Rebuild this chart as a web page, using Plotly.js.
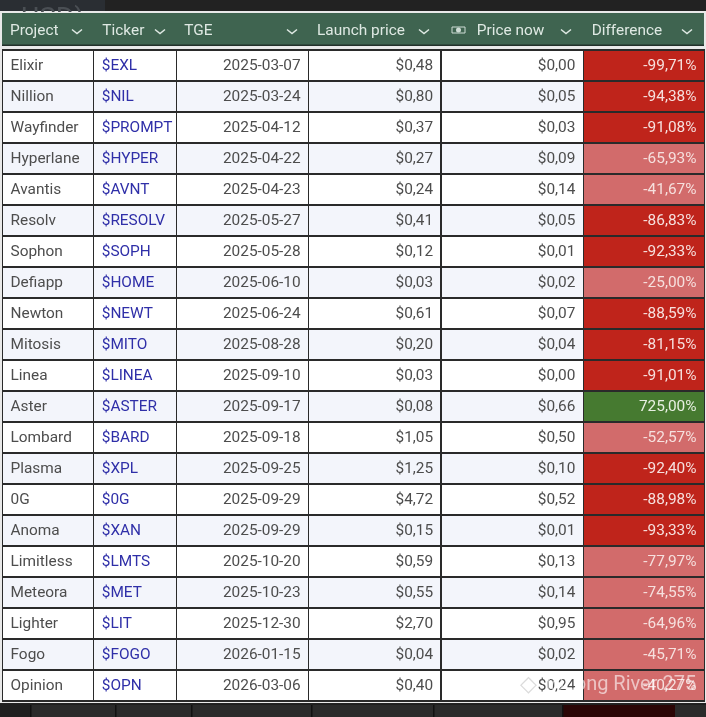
<!DOCTYPE html>
<html><head><meta charset="utf-8">
<script src="https://cdn.plot.ly/plotly-3.0.1.min.js"></script>
<style>html,body{margin:0;padding:0;background:#222}#c{width:706px;height:717px;filter:blur(0.35px)}</style></head>
<body><div id="c"></div>
<script>
const headers=['Project','Ticker','TGE','Launch price','Price now','Difference'];
const projects=['Elixir','Nillion','Wayfinder','Hyperlane','Avantis','Resolv','Sophon','Defiapp','Newton','Mitosis','Linea','Aster','Lombard','Plasma','0G','Anoma','Limitless','Meteora','Lighter','Fogo','Opinion'];
const tickers=['$EXL','$NIL','$PROMPT','$HYPER','$AVNT','$RESOLV','$SOPH','$HOME','$NEWT','$MITO','$LINEA','$ASTER','$BARD','$XPL','$0G','$XAN','$LMTS','$MET','$LIT','$FOGO','$OPN'];
const tge=['2025-03-07','2025-03-24','2025-04-12','2025-04-22','2025-04-23','2025-05-27','2025-05-28','2025-06-10','2025-06-24','2025-08-28','2025-09-10','2025-09-17','2025-09-18','2025-09-25','2025-09-29','2025-09-29','2025-10-20','2025-10-23','2025-12-30','2026-01-15','2026-03-06'];
const launch=['$0,48','$0,80','$0,37','$0,27','$0,24','$0,41','$0,12','$0,03','$0,61','$0,20','$0,03','$0,08','$1,05','$1,25','$4,72','$0,15','$0,59','$0,55','$2,70','$0,04','$0,40'];
const now=['$0,00','$0,05','$0,03','$0,09','$0,14','$0,05','$0,01','$0,02','$0,07','$0,04','$0,00','$0,66','$0,50','$0,10','$0,52','$0,01','$0,13','$0,14','$0,95','$0,02','$0,24'];
const diff=['-99,71%','-94,38%','-91,08%','-65,93%','-41,67%','-86,83%','-92,33%','-25,00%','-88,59%','-81,15%','-91,01%','725,00%','-52,57%','-92,40%','-88,98%','-93,33%','-77,97%','-74,55%','-64,96%','-45,71%','-40,27%'];
const diffNum=diff.map(s=>parseFloat(s.replace(',','.')));
const W=706,H=717;
const colX=[2.5,93.8,176.6,308.9,441.5,583.8,705];
const headX=[2,94.5,176.5,309.5,469.5,584.5,704];
const chevronX=[77,160,292,424,566,687];
const widths=colX.slice(1).map((x,i)=>x-colX[i]);
const headWidths=headX.slice(1).map((x,i)=>x-headX[i]);
const rowFill=projects.map((_,i)=>i%2?'#f3f5fb':'#ffffff');
const diffFill=diffNum.map(v=>v>0?'#467a30':(v<=-80?'#bf241b':'#d26b6b'));
const Y=v=>1-v/H, X=v=>v/W;
const blank=headers.map(()=>'');
const data=[
{type:'table',domain:{x:[X(headX[0]),X(headX[6])],y:[Y(49),Y(14)]},columnwidth:headWidths,
 header:{values:blank,height:1,line:{width:0},fill:{color:'rgba(0,0,0,0)'}},
 cells:{values:headers.map(h=>[h]),height:31,align:'left',fill:{color:'rgba(0,0,0,0)'},line:{color:'rgba(0,0,0,0)',width:0},font:{family:'Roboto, sans-serif',size:15.4,color:'#dfe9e3'}}},
{type:'table',domain:{x:[X(colX[0]),X(colX[6])],y:[Y(703),Y(49)]},columnwidth:widths,
 header:{values:blank,height:1,line:{width:0},fill:{color:'rgba(0,0,0,0)'}},
 cells:{values:[projects,tickers,tge,launch,now,diff],height:31,
  align:['left','left','right','right','right','right'],
  line:{color:'#2a2a2a',width:1.5},
  fill:{color:[rowFill,rowFill,rowFill,rowFill,rowFill,diffFill]},
  font:{family:'Roboto, sans-serif',size:15.4,color:[projects.map(_=>'#4d4d4d'),tickers.map(_=>'#2f2fa8'),tge.map(_=>'#4d4d4d'),launch.map(_=>'#4d4d4d'),now.map(_=>'#4d4d4d'),diff.map((_,i)=>diffNum[i]>0?'#e8f0e2':'#f6e0de')]}}}
];
const rect=(x0,y0,x1,y1,fill,extra)=>Object.assign({type:'rect',xref:'paper',yref:'paper',x0:X(x0),x1:X(x1),y0:Y(y1),y1:Y(y0),fillcolor:fill,line:{width:0},layer:'below'},extra||{});
const chevrons=chevronX.map(c=>({type:'path',xref:'paper',yref:'paper',layer:'above',
  path:`M ${X(c-5)} ${Y(29.5)} L ${X(c)} ${Y(33.5)} L ${X(c+5)} ${Y(29.5)}`,line:{color:'#dfe9e3',width:1.5}}));
const shapes=[
 rect(0,0,105,11,'#2a2e33'),
 rect(0,11,706,703,'#e9e9e9'),
 rect(2,13,704,45,'#3f6450'),
 rect(2,44.5,704,46,'#23302a'),
 rect(0,704,706,717,'#1f1f1f'),
 rect(31,705,706,717,'#2a2a2a'),
 rect(562,705,675,717,'#2a0505'),
 rect(30,705,31.5,717,'#111'),
 rect(115,705,116.5,717,'#111'),
 rect(191,705,192.5,717,'#111'),
 rect(311,705,312.5,717,'#111'),
 rect(433,705,434.5,717,'#111'),
 rect(562,705,563.5,717,'#111'),
 rect(452,27,465,33,'rgba(0,0,0,0)',{layer:'above',line:{color:'#cfdcd5',width:1}}),
 {type:'circle',xref:'paper',yref:'paper',layer:'above',x0:X(456),x1:X(461),y0:Y(32.5),y1:Y(27.5),fillcolor:'#cfdcd5',line:{width:0}},
 ...chevrons
];
const layout={width:W,height:H,margin:{l:0,r:0,t:0,b:0},paper_bgcolor:'#222222',showlegend:false,shapes,
 annotations:[
 {xref:'paper',yref:'paper',x:X(20),y:Y(0),xanchor:'left',yanchor:'top',showarrow:false,align:'left',valign:'top',width:80,height:11,borderpad:0,text:'USD)',font:{family:'Roboto, sans-serif',size:28,color:'#4a4f54'}},
 {xref:'paper',yref:'paper',x:X(698),y:Y(683),xanchor:'right',yanchor:'middle',showarrow:false,text:'@Long River 275',font:{family:'Roboto, sans-serif',size:20,color:'rgba(255,255,255,0.6)'}},
 {xref:'paper',yref:'paper',x:X(528),y:Y(683),xanchor:'center',yanchor:'middle',showarrow:false,text:'◇',font:{family:'DejaVu Sans, sans-serif',size:22,color:'rgba(200,200,200,0.65)'}}
 ]};
Plotly.newPlot('c',data,layout,{displayModeBar:false});
</script></body></html>
